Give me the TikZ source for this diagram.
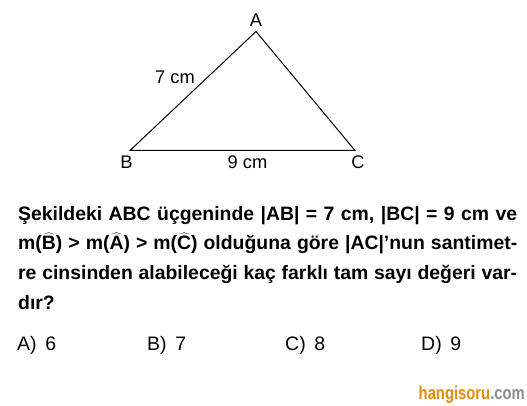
\documentclass[tikz,border=0pt]{standalone}
\usepackage{fontspec}
\setmainfont{Liberation Sans}
\newfontfamily\logofont[FakeStretch=0.8]{Liberation Sans}
\definecolor{logoorange}{RGB}{232,138,10}
\definecolor{logogray}{RGB}{140,140,140}
\newcommand\hatlet[1]{\smash{\ensuremath{\widehat{\mbox{#1}}}}}
\tikzset{
  lbl/.style={font=\fontsize{18.3}{21}\selectfont, inner sep=0pt, anchor=base},
  qline/.style={font=\fontsize{19.4}{22}\selectfont\bfseries, inner sep=0pt, anchor=base west},
  choice/.style={font=\fontsize{19.5}{22}\selectfont, inner sep=0pt, anchor=base west}
}
\begin{document}
\begin{tikzpicture}[x=1pt,y=-1pt]
	\useasboundingbox [fill=white] (0,0) rectangle (527,406);
	
	% triangle
	\coordinate (A) at (256,31.5);
	\coordinate (B) at (130,150.5);
	\coordinate (C) at (355,150.5);
	\draw [line width=1pt, line join=miter] (A) -- (B) -- (C) -- cycle;
	
	% vertex and side labels
	\node [lbl] (labA) at (256,27) {A};
	\node [lbl] (labB) at (126.5,169) {B};
	\node [lbl] (labC) at (358,169) {C};
	\node [lbl] (labAB) at (175,84) {7 cm};
	\node [lbl] (labBC) at (247.5,169) {9 cm};
	
	% question
	\node [qline] (q1) at (18,220) {\makebox[499pt][s]{Şekildeki ABC üçgeninde |AB| = 7 cm, |BC| = 9 cm ve}};
	\node [qline] (q2) at (18,249.7) {\makebox[499pt][s]{m(\hatlet{B}) > m(\hatlet{A}) > m(\hatlet{C}) olduğuna göre |AC|’nun santimet-}};
	\node [qline] (q3) at (18,279.3) {\makebox[499pt][s]{re cinsinden alabileceği kaç farklı tam sayı değeri var-}};
	\node [qline] (q4) at (18,309) {dır?};
	
	% choices
	\node [choice] (chA) at (17,350) {A)\, 6};
	\node [choice] (chB) at (147,350) {B)\, 7};
	\node [choice] (chC) at (285,350) {C)\, 8};
	\node [choice] (chD) at (421,350) {D)\, 9};
	
	% logo
	\node [inner sep=0pt, anchor=base east, font=\logofont\fontsize{18.5}{20}\selectfont\bfseries] (logo) at (525,399) {\textcolor{logoorange}{hangisoru}\textcolor{logogray}{.com}};
\end{tikzpicture}
\end{document}
